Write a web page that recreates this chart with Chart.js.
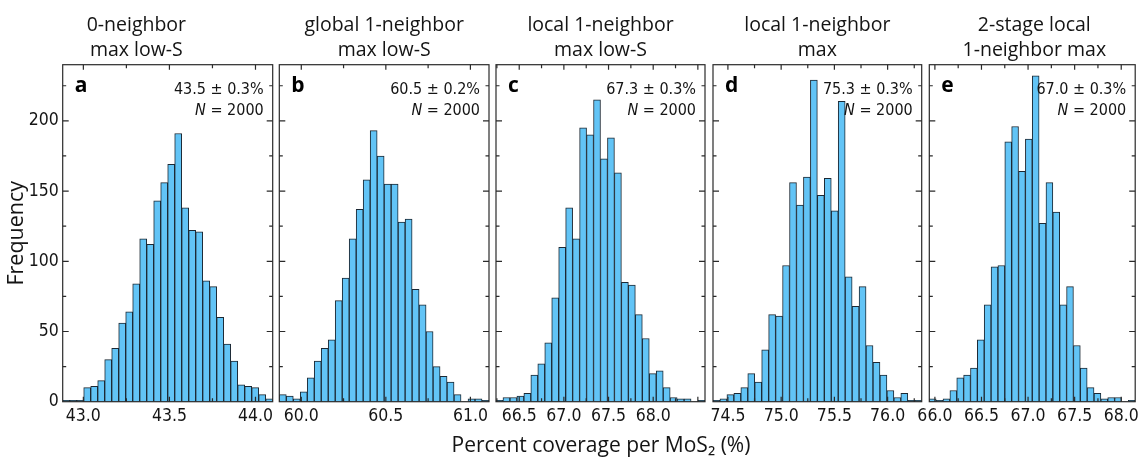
<!DOCTYPE html>
<html>
<head>
<meta charset="utf-8">
<title>Percent coverage per MoS2 histograms</title>
<script src="https://cdn.jsdelivr.net/npm/chart.js@4.4.1/dist/chart.umd.min.js"></script>
<style>
  html, body { margin: 0; padding: 0; background: #fff; }
  #fig { position: relative; width: 1143px; height: 457px; overflow: hidden; background: #fff; }
  #fig canvas { position: absolute; left: 0; top: 0; }
</style>
</head>
<body>
<div id="fig"></div>
<script>
// ---- data -------------------------------------------------------------
const panelTitles = [
  ['0-neighbor', 'max low-S'],
  ['global 1-neighbor', 'max low-S'],
  ['local 1-neighbor', 'max low-S'],
  ['local 1-neighbor', 'max'],
  ['2-stage local', '1-neighbor max']
];
const panelLetters = ['a', 'b', 'c', 'd', 'e'];
const meanLabels = ['43.5 \u00b1 0.3%', '60.5 \u00b1 0.2%', '67.3 \u00b1 0.3%', '75.3 \u00b1 0.3%', '67.0 \u00b1 0.3%'];
const sampleSizes = [2000, 2000, 2000, 2000, 2000];

// histogram range (first bin edge, last bin edge) per panel
const binStart = [42.88, 59.87, 66.24, 74.36, 65.94];
const binEnd   = [44.10, 61.11, 68.58, 76.32, 68.15];

// bin counts, 30 bins per panel
const countsA = [1, 1, 1, 10, 11, 15, 30, 38, 56, 64, 84, 116, 112, 143, 156, 169, 191, 138, 122, 121, 86, 82, 60, 41, 29, 12, 11, 10, 5, 2];
const countsB = [5, 4, 2, 7, 17, 29, 38, 44, 72, 88, 116, 137, 158, 193, 175, 155, 155, 128, 130, 80, 69, 50, 25, 18, 14, 5, 0, 2, 2, 1];
const countsC = [1, 3, 3, 4, 6, 19, 27, 42, 74, 110, 138, 116, 195, 190, 215, 173, 188, 163, 85, 83, 62, 45, 20, 22, 10, 3, 2, 2, 0, 1];
const countsD = [1, 2, 5, 6, 10, 20, 14, 37, 62, 61, 97, 156, 140, 160, 229, 147, 159, 136, 214, 89, 68, 82, 40, 28, 19, 8, 3, 6, 1, 1];
const countsE = [2, 1, 2, 8, 17, 19, 24, 44, 69, 96, 97, 185, 196, 164, 187, 232, 127, 156, 135, 69, 82, 40, 24, 10, 6, 2, 3, 3, 0, 1];
const panelCounts = [countsA, countsB, countsC, countsD, countsE];

const xTickValues = [
  [43.0, 43.5, 44.0],
  [60.0, 60.5, 61.0],
  [66.5, 67.0, 67.5, 68.0],
  [74.5, 75.0, 75.5, 76.0],
  [66.0, 66.5, 67.0, 67.5, 68.0]
];
const xTickLabels = [
  ['43.0', '43.5', '44.0'],
  ['60.0', '60.5', '61.0'],
  ['66.5', '67.0', '67.5', '68.0'],
  ['74.5', '75.0', '75.5', '76.0'],
  ['66.0', '66.5', '67.0', '67.5', '68.0']
];
const yTickValues = [0, 50, 100, 150, 200];
const yTickLabels = ['0', '50', '100', '150', '200'];
const xAxisTitle = 'Percent coverage per MoS\u2082 (%)';
const yAxisTitle = 'Frequency';

// ---- layout & style --------------------------------------------------
const W = 1143, H = 457;
const plotTop = 64.7, plotBottom = 401.7;
const panelLeft  = [62.7, 279.3, 496.0, 713.0, 929.3];
const panelRight = [272.7, 489.0, 705.0, 921.7, 1139.3];
const Y_MAX = 240;

const SANS = '"Open Sans", "Noto Sans", sans-serif';
const COND = '"Liberation Sans Narrow", "DejaVu Sans Condensed", "Roboto", sans-serif';
const INK = '#141414';
const FRAME = '#2a2a2a';
const BAR_FILL = '#62c4f6';
const BAR_EDGE = '#1c2833';

// frame with inward ticks, panel letter, summary text and the shared x title
const panelDecor = {
  id: 'panelDecor',
  afterDraw(chart, args, o) {
    const { ctx, chartArea: a, scales: { x, y } } = chart;
    ctx.save();
    ctx.strokeStyle = FRAME;
    ctx.lineWidth = 1.2;
    ctx.strokeRect(a.left, a.top, a.right - a.left, a.bottom - a.top);

    ctx.beginPath();
    const q = 0.25;
    for (let v = Math.ceil(x.min / q - 1e-9) * q; v <= x.max + 1e-9; v += q) {
      const px = x.getPixelForValue(v);
      const major = Math.abs(v / 0.5 - Math.round(v / 0.5)) < 1e-6;
      const len = major ? 5 : 3.5;
      ctx.moveTo(px, a.top); ctx.lineTo(px, a.top + len);
      ctx.moveTo(px, a.bottom); ctx.lineTo(px, a.bottom - len);
    }
    for (let v = 25; v < Y_MAX; v += 25) {
      const py = y.getPixelForValue(v);
      const len = v % 50 === 0 ? 6 : 3.5;
      ctx.moveTo(a.left, py); ctx.lineTo(a.left + len, py);
      ctx.moveTo(a.right, py); ctx.lineTo(a.right - len, py);
    }
    ctx.stroke();

    ctx.fillStyle = '#000';
    ctx.textBaseline = 'alphabetic';
    ctx.textAlign = 'left';
    ctx.font = 'bold 21px ' + SANS;
    ctx.fillText(o.letter, a.left + 12, a.top + 27.5);

    const xr = a.right - 9;
    ctx.textAlign = 'right';
    ctx.fillStyle = INK;
    ctx.font = '16px ' + COND;
    ctx.fillText(o.mean, xr, a.top + 29.6);
    const rest = ' = ' + o.n;
    ctx.fillText(rest, xr, a.top + 50.3);
    const w = ctx.measureText(rest).width;
    ctx.font = 'italic 16px ' + COND;
    ctx.fillText('N', xr - w, a.top + 50.3);

    if (o.xTitle) {
      // shared axis title, centred under the whole row of panels
      ctx.textAlign = 'center';
      ctx.font = '21px ' + SANS;
      ctx.fillText(o.xTitle, (panelLeft[0] + panelRight[panelRight.length - 1]) / 2, 451.5);
    }
    ctx.restore();
  }
};

const fig = document.getElementById('fig');

panelCounts.forEach((counts, i) => {
  const canvas = document.createElement('canvas');
  canvas.width = W;
  canvas.height = H;
  fig.appendChild(canvas);

  const step = (binEnd[i] - binStart[i]) / counts.length;
  const points = counts.map((c, k) => ({ x: binStart[i] + (k + 0.5) * step, y: c }));
  const first = i === 0;

  new Chart(canvas, {
    type: 'bar',
    data: {
      datasets: [{
        data: points,
        backgroundColor: BAR_FILL,
        borderColor: BAR_EDGE,
        borderWidth: 1,
        borderSkipped: 'start',
        barPercentage: 1,
        categoryPercentage: 1
      }]
    },
    options: {
      responsive: false,
      animation: false,
      devicePixelRatio: 1,
      events: [],
      layout: {
        autoPadding: false,
        padding: { left: first ? 0 : panelLeft[i], right: W - panelRight[i], top: 0, bottom: 0 }
      },
      plugins: {
        legend: { display: false },
        tooltip: { enabled: false },
        title: {
          display: true,
          text: panelTitles[i],
          color: INK,
          font: { family: SANS, size: 19.5, weight: 'normal', lineHeight: 25 / 19.5 },
          padding: { top: 12.5, bottom: plotTop - 50 - 12.5 }
        },
        panelDecor: {
          letter: panelLetters[i],
          mean: meanLabels[i],
          n: sampleSizes[i],
          xTitle: i === 2 ? xAxisTitle : null
        }
      },
      scales: {
        x: {
          type: 'linear',
          min: binStart[i],
          max: binEnd[i],
          offset: false,
          grid: { display: false, drawTicks: false },
          border: { display: false },
          afterFit: (s) => { s.height = H - plotBottom; },
          afterBuildTicks: (s) => { s.ticks = xTickValues[i].map(v => ({ value: v })); },
          ticks: {
            autoSkip: false,
            maxRotation: 0,
            padding: 4,
            color: INK,
            font: { family: COND, size: 17.5 },
            callback: (v, k) => xTickLabels[i][k]
          }
        },
        y: {
          display: first,
          min: 0,
          max: Y_MAX,
          grid: { display: false, drawTicks: false },
          border: { display: false },
          afterFit: (s) => { s.width = first ? panelLeft[0] : 0; },
          afterBuildTicks: (s) => { s.ticks = yTickValues.map(v => ({ value: v })); },
          ticks: {
            padding: 4,
            color: INK,
            font: { family: COND, size: 17.5 },
            callback: (v, k) => yTickLabels[k]
          },
          title: {
            display: first,
            text: yAxisTitle,
            color: INK,
            font: { family: SANS, size: 21.5, lineHeight: 1.2 },
            padding: { top: 4, bottom: 0 }
          }
        }
      }
    },
    plugins: [panelDecor]
  });
});
</script>
</body>
</html>
